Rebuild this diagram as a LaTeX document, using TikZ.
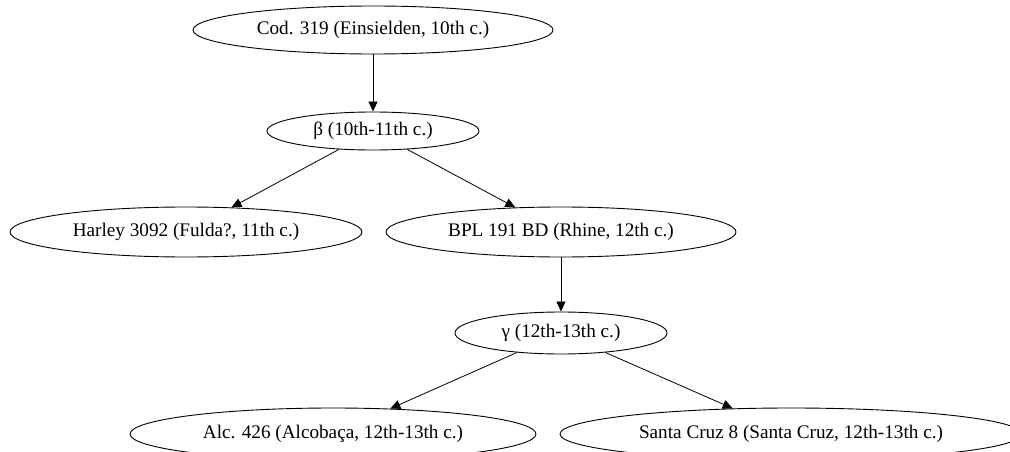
\documentclass[tikz,border=0pt]{standalone}
\usepackage{fontspec}
\setmainfont{Liberation Serif}
\usetikzlibrary{shapes.geometric,arrows.meta}
\begin{document}
\begin{tikzpicture}[x=1pt,y=-1pt,
  ms/.style={draw, ellipse, inner sep=0pt, line width=0.9pt,
    font=\fontsize{19.2}{22}\selectfont},
  edge/.style={-{Triangle[length=10pt,width=9pt]}, line width=0.8pt}]
\useasboundingbox (0,0) rectangle (1010,452);
\clip (0,0) rectangle (1010,452);
\node[ms, minimum width=360pt, minimum height=48pt] (cod) at (373,30) {Cod. 319 (Einsielden, 10th c.)};
\node[ms, minimum width=212pt, minimum height=38pt] (beta) at (373,131) {β (10th-11th c.)};
\node[ms, minimum width=352pt, minimum height=50pt] (harley) at (186,232) {Harley 3092 (Fulda?, 11th c.)};
\node[ms, minimum width=350pt, minimum height=50pt] (bpl) at (561,232) {BPL 191 BD (Rhine, 12th c.)};
\node[ms, minimum width=212pt, minimum height=42pt] (gamma) at (561,333) {γ (12th-13th c.)};
\node[ms, minimum width=406pt, minimum height=52pt] (alc) at (333,434) {Alc. 426 (Alcobaça, 12th-13th c.)};
\node[ms, minimum width=462pt, minimum height=52pt] (santa) at (791,434) {Santa Cruz 8 (Santa Cruz, 12th-13th c.)};
\draw[edge] (cod) -- (beta);
\draw[edge] (beta) -- (harley);
\draw[edge] (beta) -- (bpl);
\draw[edge] (bpl) -- (gamma);
\draw[edge] (gamma) -- (alc);
\draw[edge] (gamma) -- (santa);
\end{tikzpicture}
\end{document}
